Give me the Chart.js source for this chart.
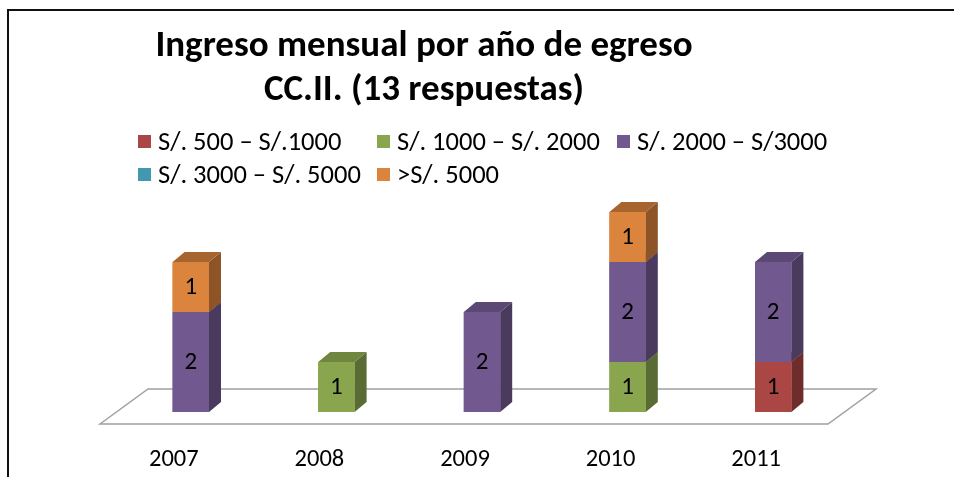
<!DOCTYPE html>
<html lang="es">
<head>
  <meta charset="UTF-8">
  <title>Ingreso mensual por año de egreso</title>
  <script src="https://cdn.jsdelivr.net/npm/chart.js"></script>
  <style>
    body { margin: 0; background: #fff; }
    #wrap { position: relative; width: 954px; height: 477px; overflow: hidden; }
    #chart { position: absolute; left: 0; top: 0; }
    .frame { position: absolute; left: 7px; top: 9px; width: 960px; height: 480px;
             border-top: 2px solid #111; border-left: 2px solid #111; }
    .title { position: absolute; left: 0; top: 22px; width: 848px; text-align: center;
             font: bold 37px Carlito, 'Liberation Sans', sans-serif; line-height: 44px; color: #000; }
    .item { position: absolute; font: 26.5px Carlito, 'Liberation Sans', sans-serif; line-height: 26.5px;
            color: #000; white-space: nowrap; }
    .item i { position: absolute; left: -20px; top: 7px; width: 13px; height: 13px; }
  </style>
</head>
<body>
<div id="wrap">
  <canvas id="chart" width="954" height="477"></canvas>
  <div class="frame"></div>
  <div class="title">Ingreso mensual por año de egreso<br>CC.II. (13 respuestas)</div>
  <div id="legend"></div>
</div>

<script>
// años de egreso (eje x)
const years = ['2007', '2008', '2009', '2010', '2011'];

// rangos de ingreso (series)
const rangos = ['S/. 500 – S/.1000', 'S/. 1000 – S/. 2000', 'S/. 2000 – S/3000', 'S/. 3000 – S/. 5000', '>S/. 5000'];

// respuestas por rango y año
const r500a1000  = [0, 0, 0, 0, 1];
const r1000a2000 = [0, 1, 0, 1, 0];
const r2000a3000 = [2, 0, 2, 2, 2];
const r3000a5000 = [0, 0, 0, 0, 0];
const rMas5000   = [1, 0, 0, 1, 0];

// front / side / top colours of the 3D columns
const frontColors = ['#AA4643', '#89A54E', '#71588F', '#4198AF', '#DB843D'];
const sideColors  = ['#6E2D2B', '#5A6C33', '#4A3A5E', '#2B6373', '#8C5427'];
const topColors   = ['#8A3936', '#6F863F', '#5C4874', '#357C8F', '#A8642E'];

const series = [r500a1000, r1000a2000, r2000a3000, r3000a5000, rMas5000];

const DX = 12, DY = 10;  // depth of the columns

function poly(ctx, pts, color) {
  ctx.beginPath();
  ctx.moveTo(pts[0][0], pts[0][1]);
  for (let k = 1; k < pts.length; k++) ctx.lineTo(pts[k][0], pts[k][1]);
  ctx.closePath();
  ctx.fillStyle = color;
  ctx.fill();
}

// floor + 3D faces + value labels
const bars3d = {
  id: 'bars3d',
  beforeDatasetsDraw(chart) {
    const ctx = chart.ctx;
    const a = chart.chartArea;
    const y0 = chart.scales.y.getPixelForValue(0);
    ctx.save();
    ctx.beginPath();
    ctx.moveTo(a.left - 18, y0 + 12);
    ctx.lineTo(a.left + 30, y0 - 23);
    ctx.lineTo(a.right + 30, y0 - 23);
    ctx.lineTo(a.right - 18, y0 + 12);
    ctx.closePath();
    ctx.fillStyle = '#fff';
    ctx.fill();
    ctx.strokeStyle = '#A0A0A0';
    ctx.lineWidth = 1.5;
    ctx.stroke();
    ctx.restore();
  },
  afterDatasetsDraw(chart) {
    const ctx = chart.ctx;
    ctx.save();
    chart.data.datasets.forEach((ds, i) => {
      const meta = chart.getDatasetMeta(i);
      meta.data.forEach((bar, j) => {
        if (!ds.data[j]) return;
        const p = bar.getProps(['x', 'y', 'base', 'width'], true);
        const l = p.x - p.width / 2, r = p.x + p.width / 2;
        poly(ctx, [[r, p.y], [r + DX, p.y - DY], [r + DX, p.base - DY], [r, p.base]], sideColors[i]);
        poly(ctx, [[l, p.y], [l + DX, p.y - DY], [r + DX, p.y - DY], [r, p.y]], topColors[i]);
        ctx.fillStyle = frontColors[i];
        ctx.fillRect(l, p.y, p.width, p.base - p.y);
      });
    });
    ctx.fillStyle = '#000';
    ctx.font = '25px Carlito, "Liberation Sans", sans-serif';
    ctx.textAlign = 'center';
    ctx.textBaseline = 'middle';
    chart.data.datasets.forEach((ds, i) => {
      chart.getDatasetMeta(i).data.forEach((bar, j) => {
        if (!ds.data[j]) return;
        const p = bar.getProps(['x', 'y', 'base'], true);
        ctx.fillText(String(ds.data[j]), p.x, (p.y + p.base) / 2 + 1);
      });
    });
    ctx.restore();
  }
};

Chart.defaults.font.family = 'Carlito, "Liberation Sans", sans-serif';
Chart.defaults.color = '#000';

const chart = new Chart(document.getElementById('chart'), {
  type: 'bar',
  data: {
    labels: years,
    datasets: rangos.map((name, i) => ({
      label: name,
      data: series[i],
      backgroundColor: frontColors[i],
      borderWidth: 0,
      barPercentage: 0.25,
      categoryPercentage: 1
    }))
  },
  options: {
    responsive: false,
    animation: false,
    devicePixelRatio: 1,
    layout: { padding: { left: 118, right: 108, top: 162, bottom: 0 } },
    plugins: {
      legend: { display: false },
      title: { display: false },
      tooltip: { enabled: false }
    },
    scales: {
      x: {
        stacked: true,
        grid: { display: false, drawTicks: false },
        border: { display: false },
        ticks: { font: { size: 24.5 }, padding: 33, labelOffset: -17 },
        afterFit(scale) { scale.height = 65; }
      },
      y: {
        stacked: true,
        display: false,
        min: 0,
        max: 5
      }
    }
  },
  plugins: [bars3d]
});

// legend built from the series names and colours
const cols = [158, 397, 637], rows = [128, 161];
const legend = document.getElementById('legend');
rangos.forEach((name, i) => {
  const d = document.createElement('div');
  d.className = 'item';
  d.style.left = cols[i % 3] + 'px';
  d.style.top = rows[Math.floor(i / 3)] + 'px';
  d.innerHTML = '<i style="background:' + frontColors[i] + '"></i>';
  d.appendChild(document.createTextNode(name));
  legend.appendChild(d);
});
</script>
</body>
</html>
